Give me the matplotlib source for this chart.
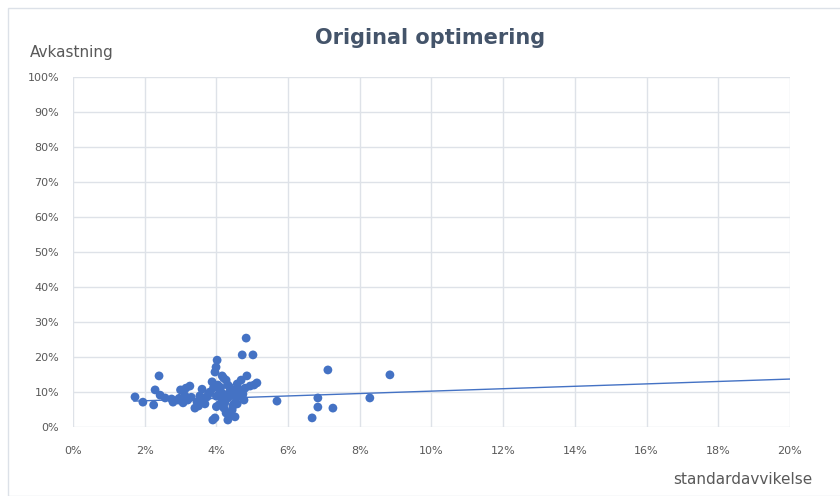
import matplotlib
matplotlib.use("Agg")
import matplotlib.pyplot as plt
from matplotlib.ticker import PercentFormatter, MultipleLocator
from matplotlib.patches import Rectangle

# standard deviation (x) and return (y), as fractions
std_dev = [0.0173, 0.0195, 0.0225, 0.0229, 0.0240, 0.0243, 0.0257, 0.0279, 0.0293,
           0.0300, 0.0315, 0.0326, 0.0307, 0.0320, 0.0340, 0.0346, 0.0354, 0.0368,
           0.0374, 0.0382, 0.0390, 0.0396, 0.0388, 0.0396, 0.0402, 0.0399, 0.0404,
           0.0410, 0.0416, 0.0421, 0.0416, 0.0427, 0.0432, 0.0438, 0.0432, 0.0427,
           0.0432, 0.0444, 0.0449, 0.0455, 0.0452, 0.0458, 0.0466, 0.0469, 0.0474,
           0.0480, 0.0472, 0.0483, 0.0502, 0.0485, 0.0494, 0.0505, 0.0513, 0.0477,
           0.0458, 0.0569, 0.0667, 0.0683, 0.0683, 0.0711, 0.0725, 0.0828, 0.0884,
           0.0350, 0.0362, 0.0378, 0.0392, 0.0400, 0.0408, 0.0412, 0.0418,
           0.0424, 0.0436, 0.0440, 0.0446, 0.0450, 0.0462, 0.0468, 0.0330, 0.0312,
           0.0296, 0.0275, 0.0360, 0.0420, 0.0440, 0.0400, 0.0455, 0.0470]
returns = [0.086, 0.071, 0.063, 0.106, 0.146, 0.091, 0.083, 0.071, 0.077,
           0.106, 0.111, 0.117, 0.069, 0.077, 0.054, 0.071, 0.089, 0.066,
           0.086, 0.100, 0.020, 0.026, 0.129, 0.157, 0.191, 0.171, 0.120,
           0.100, 0.077, 0.054, 0.146, 0.134, 0.120, 0.100, 0.083, 0.040,
           0.020, 0.049, 0.066, 0.083, 0.029, 0.123, 0.106, 0.134, 0.094,
           0.111, 0.206, 0.254, 0.206, 0.146, 0.117, 0.120, 0.126, 0.077,
           0.066, 0.074, 0.026, 0.057, 0.083, 0.163, 0.054, 0.083, 0.149,
           0.060, 0.075, 0.095, 0.112, 0.088, 0.064, 0.113, 0.095,
           0.070, 0.115, 0.090, 0.060, 0.105, 0.089, 0.098, 0.085, 0.090,
           0.082, 0.080, 0.108, 0.140, 0.035, 0.058, 0.100, 0.092]

# linear trendline (start and forecast end)
trend_x = [0.017, 0.20]
trend_y = [0.0739, 0.137]

title = "Original optimering"
y_label = "Avkastning"
x_label = "standardavvikelse"

W, H = 840, 496
fig = plt.figure(figsize=(W / 100, H / 100), dpi=100)
fig.patch.set_facecolor("white")
fig.patches.append(Rectangle((8 / W, 0), 1, 1 - 8 / H, transform=fig.transFigure,
                             fill=False, edgecolor="#DCE1E8", linewidth=1.0))

ax = fig.add_axes([73 / W, 1 - 427 / H, (790 - 73) / W, (427 - 77) / H])
ax.set_xlim(0, 0.20)
ax.set_ylim(0, 1.0)
ax.xaxis.set_major_locator(MultipleLocator(0.02))
ax.yaxis.set_major_locator(MultipleLocator(0.10))
ax.xaxis.set_major_formatter(PercentFormatter(1.0, decimals=0))
ax.yaxis.set_major_formatter(PercentFormatter(1.0, decimals=0))
ax.grid(True, color="#DEE2E8", linewidth=1.0)
ax.set_axisbelow(True)
for s in ax.spines.values():
    s.set_visible(False)
ax.tick_params(length=0, labelsize=8, labelcolor="#595959")
ax.tick_params(axis="x", pad=14)
ax.tick_params(axis="y", pad=10)

ax.scatter(std_dev, returns, s=40, color="#4472C4", edgecolors="none", zorder=3)
ax.plot(trend_x, trend_y, color="#4472C4", linewidth=1.0, zorder=4)

fig.text(430 / W, 1 - 38 / H, title, ha="center", va="center",
         fontsize=15, fontweight="bold", color="#44546A")
fig.text(30 / W, 1 - 52 / H, y_label, ha="left", va="center",
         fontsize=11, color="#595959")
fig.text(812 / W, 1 - 480 / H, x_label, ha="right", va="center",
         fontsize=11, color="#595959")

fig.savefig("out.png", dpi=100)
